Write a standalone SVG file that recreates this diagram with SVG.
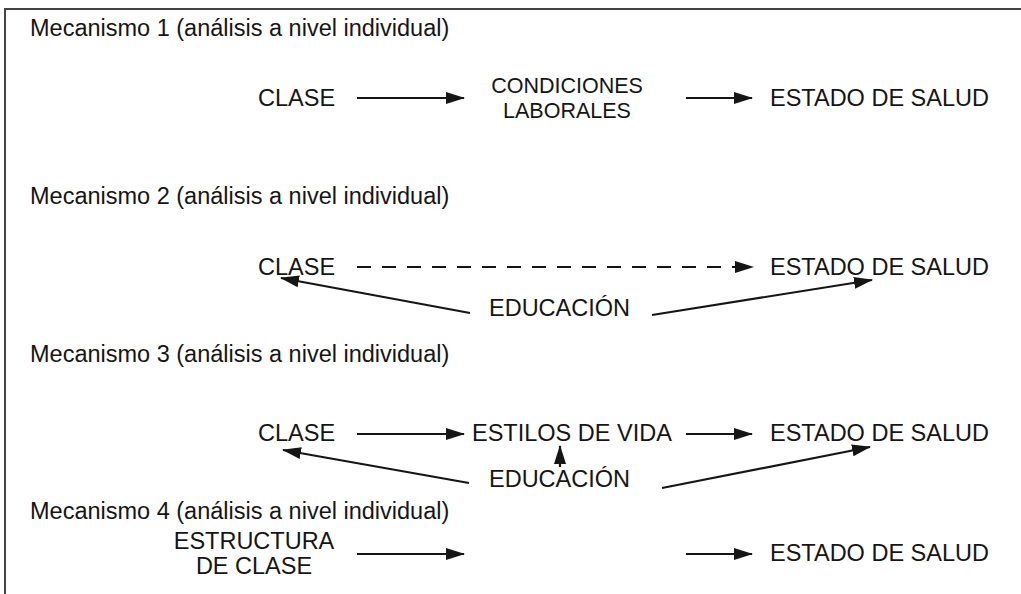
<svg xmlns="http://www.w3.org/2000/svg" width="1021" height="594" viewBox="0 0 1021 594">
<style>
text{font-family:"Liberation Sans",Arial,sans-serif;font-size:23.5px;fill:#151515}
.s{font-size:21.5px}
.c{stroke:#151515;stroke-width:2.2;fill:none}
.d{stroke-dasharray:14,11}
.frame{stroke:#444;stroke-width:2;fill:none}
</style>
<defs>
<marker id="ah" markerUnits="userSpaceOnUse" markerWidth="20" markerHeight="14" viewBox="0 0 20 14" refX="18" refY="7" orient="auto">
<path d="M0,1 L19,7 L0,13 Z" fill="#151515"/>
</marker>
</defs>
<path class="frame" d="M5,594 V9 H1021"/>
<g id="titles">
<text x="30" y="36">Mecanismo 1 (análisis a nivel individual)</text>
<text x="30" y="204">Mecanismo 2 (análisis a nivel individual)</text>
<text x="30" y="362">Mecanismo 3 (análisis a nivel individual)</text>
<text x="30" y="519">Mecanismo 4 (análisis a nivel individual)</text>
</g>
<g id="m1-clase"><text x="258" y="106">CLASE</text></g>
<g id="m1-condiciones"><text class="s" x="567" y="93" text-anchor="middle">CONDICIONES</text><text class="s" x="567" y="118" text-anchor="middle">LABORALES</text></g>
<g id="m1-salud"><text x="770" y="106">ESTADO DE SALUD</text></g>
<g id="m2-clase"><text x="258" y="275">CLASE</text></g>
<g id="m2-salud"><text x="770" y="275">ESTADO DE SALUD</text></g>
<g id="m2-educacion"><text x="489" y="316">EDUCACIÓN</text></g>
<g id="m3-clase"><text x="258" y="441">CLASE</text></g>
<g id="m3-estilos"><text x="472" y="441">ESTILOS DE VIDA</text></g>
<g id="m3-salud"><text x="770" y="441">ESTADO DE SALUD</text></g>
<g id="m3-educacion"><text x="489" y="487">EDUCACIÓN</text></g>
<g id="m4-estructura"><text x="254" y="549" text-anchor="middle">ESTRUCTURA</text><text x="254" y="574" text-anchor="middle">DE CLASE</text></g>
<g id="m4-salud"><text x="770" y="561">ESTADO DE SALUD</text></g>
<g id="connectors">
<line class="c" x1="357" y1="98" x2="464" y2="98" marker-end="url(#ah)"/>
<line class="c" x1="686" y1="98" x2="752" y2="98" marker-end="url(#ah)"/>
<line class="c d" x1="357" y1="267" x2="736" y2="267"/>
<path d="M735,261 L754,267 L735,273 Z" fill="#151515"/>
<line class="c" x1="470" y1="313" x2="281" y2="278" marker-end="url(#ah)"/>
<line class="c" x1="652" y1="315" x2="872" y2="280" marker-end="url(#ah)"/>
<line class="c" x1="357" y1="434" x2="464" y2="434" marker-end="url(#ah)"/>
<line class="c" x1="686" y1="434" x2="752" y2="434" marker-end="url(#ah)"/>
<line class="c" x1="560" y1="467" x2="560" y2="446" marker-end="url(#ah)"/>
<line class="c" x1="469" y1="483" x2="283" y2="450" marker-end="url(#ah)"/>
<line class="c" x1="662" y1="488" x2="870" y2="447" marker-end="url(#ah)"/>
<line class="c" x1="357" y1="554" x2="464" y2="554" marker-end="url(#ah)"/>
<line class="c" x1="686" y1="554" x2="752" y2="554" marker-end="url(#ah)"/>
</g>
</svg>
